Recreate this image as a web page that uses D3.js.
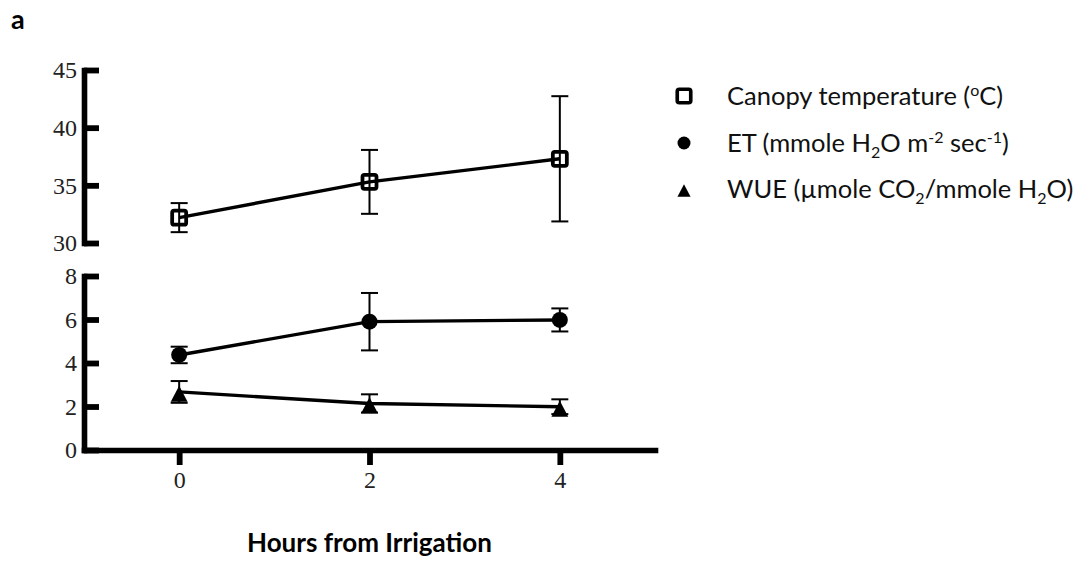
<!DOCTYPE html>
<html>
<head>
<meta charset="utf-8">
<script src="https://cdn.jsdelivr.net/npm/d3@7"></script>
<style>
  body { margin: 0; background: #fff; }
  .axis path, .axis line { stroke: #000; }
  .legend text { font-family: Lato, sans-serif; font-size: 25.5px; fill: #111; }
</style>
</head>
<body>
<div id="chart"></div>
<script>
// Data (mean and error half-width)
const hours = [0, 2, 4];
const canopyMean = [32.2, 35.3, 37.3];
const canopyErr = [1.26, 2.77, 5.43];
const etMean = [4.37, 5.9, 5.98];
const etErr = [0.38, 1.32, 0.53];
const wueMean = [2.67, 2.14, 1.99];
const wueErr = [0.5, 0.42, 0.34];

const xTicks = [0, 2, 4];
const topTicks = [30, 35, 40, 45];
const bottomTicks = [0, 2, 4, 6, 8];

const width = 1091, height = 563;

const svg = d3.select("#chart").append("svg")
    .attr("width", width)
    .attr("height", height);

// Scales: one x, two y segments (broken axis)
const x = d3.scaleLinear().domain([-1, 5]).range([84, 655]);
const yTop = d3.scaleLinear().domain([30, 45]).range([243, 70]);
const yBot = d3.scaleLinear().domain([0, 8]).range([450, 276]);

// Axes
const yTopAxis = d3.axisLeft(yTop).tickValues(topTicks).tickSizeInner(-15).tickSizeOuter(0).tickPadding(7);
const yBotAxis = d3.axisLeft(yBot).tickValues(bottomTicks).tickSizeInner(-15).tickSizeOuter(0).tickPadding(7);
const xAxis = d3.axisBottom(x).tickValues(xTicks).tickFormat(d3.format("d"))
    .tickSizeInner(15).tickSizeOuter(0).tickPadding(6);

function styleAxis(g) {
    g.select(".domain").attr("stroke-width", 5.6).attr("stroke-linecap", "square");
    g.selectAll(".tick line").attr("stroke-width", 5.8);
    g.selectAll(".tick text")
        .attr("font-family", "'Liberation Serif', serif")
        .attr("font-size", "24px")
        .attr("fill", "#222");
}

svg.append("g").attr("class", "axis")
    .attr("transform", "translate(" + x(-1) + ",0)")
    .call(yTopAxis).call(styleAxis);

svg.append("g").attr("class", "axis")
    .attr("transform", "translate(" + x(-1) + ",0)")
    .call(yBotAxis).call(styleAxis);

svg.append("g").attr("class", "axis")
    .attr("transform", "translate(0," + yBot(0) + ")")
    .call(xAxis).call(styleAxis);

// Series
const series = [
    {name: "canopy", mean: canopyMean, err: canopyErr, y: yTop, shape: "square"},
    {name: "et", mean: etMean, err: etErr, y: yBot, shape: "circle"},
    {name: "wue", mean: wueMean, err: wueErr, y: yBot, shape: "triangle"}
];

const line = (s) => d3.line()
    .x((d, i) => x(hours[i]))
    .y(d => s.y(d));

function drawMarker(g, shape, size) {
    if (shape === "square") {
        g.append("rect")
            .attr("x", -size / 2).attr("y", -size / 2)
            .attr("width", size).attr("height", size)
            .attr("rx", 2)
            .attr("fill", "none").attr("stroke", "#000").attr("stroke-width", size * 0.27);
    } else if (shape === "circle") {
        g.append("circle").attr("r", size / 2).attr("fill", "#000");
    } else {
        let w = size * 1.05, top = -size * 0.38, bot = size * 0.62;
        g.append("path")
            .attr("d", "M0," + top + "L" + (w / 2) + "," + bot + "L" + (-w / 2) + "," + bot + "Z")
            .attr("fill", "#000");
    }
}

series.forEach(s => {
    // connecting line
    svg.append("path")
        .datum(s.mean)
        .attr("d", line(s))
        .attr("fill", "none")
        .attr("stroke", "#000")
        .attr("stroke-width", 3.4);

    // error bars
    const eb = svg.append("g").selectAll("g")
        .data(s.mean)
        .join("g")
        .attr("stroke", "#000")
        .attr("stroke-width", 2);

    eb.append("line")
        .attr("x1", (d, i) => x(hours[i])).attr("x2", (d, i) => x(hours[i]))
        .attr("y1", (d, i) => s.y(d - s.err[i])).attr("y2", (d, i) => s.y(d + s.err[i]));
    eb.append("line")
        .attr("x1", (d, i) => x(hours[i]) - 8.5).attr("x2", (d, i) => x(hours[i]) + 8.5)
        .attr("y1", (d, i) => s.y(d + s.err[i])).attr("y2", (d, i) => s.y(d + s.err[i]));
    eb.append("line")
        .attr("x1", (d, i) => x(hours[i]) - 8.5).attr("x2", (d, i) => x(hours[i]) + 8.5)
        .attr("y1", (d, i) => s.y(d - s.err[i])).attr("y2", (d, i) => s.y(d - s.err[i]));

    // markers
    svg.append("g").selectAll("g")
        .data(s.mean)
        .join("g")
        .attr("transform", (d, i) => "translate(" + x(hours[i]) + "," + s.y(d) + ")")
        .each(function() { drawMarker(d3.select(this), s.shape, s.shape === "square" ? 14 : 16); });
});

// Legend
const legend = svg.append("g").attr("class", "legend");
const legendRows = [
    {shape: "square", size: 13.5, y: 96, parts: [["Canopy temperature (", 0], ["o", 1], ["C)", 0]]},
    {shape: "circle", size: 13, y: 143, parts: [["ET (mmole H", 0], ["2", -1], ["O m", 0], ["-2", 1], [" sec", 0], ["-1", 1], [")", 0]]},
    {shape: "triangle", size: 12.5, y: 189, parts: [["WUE (", 0], ["\u00b5", 0], ["mole CO", 0], ["2", -1], ["/mmole H", 0], ["2", -1], ["O)", 0]]}
];

legendRows.forEach(r => {
    const m = legend.append("g").attr("transform", "translate(684," + r.y + ")");
    drawMarker(m, r.shape, r.size);
    const t = legend.append("text").attr("x", 727).attr("y", r.y + 9);
    let prev = 0;
    r.parts.forEach(p => {
        const shift = p[1] === 1 ? -9 : (p[1] === -1 ? 6 : 0);
        t.append("tspan")
            .attr("dy", shift - prev)
            .attr("font-size", p[1] === 0 ? null : "16px")
            .text(p[0]);
        prev = shift;
    });
});

// Axis title
svg.append("text")
    .attr("x", x(2))
    .attr("y", 552)
    .attr("text-anchor", "middle")
    .attr("font-family", "Lato, sans-serif")
    .attr("font-weight", "bold")
    .attr("font-size", "26px")
    .text("Hours from Irrigation");

// Panel label
svg.append("text")
    .attr("x", 11)
    .attr("y", 29)
    .attr("font-family", "Lato, sans-serif")
    .attr("font-weight", "bold")
    .attr("font-size", "27px")
    .text("a");
</script>
</body>
</html>
